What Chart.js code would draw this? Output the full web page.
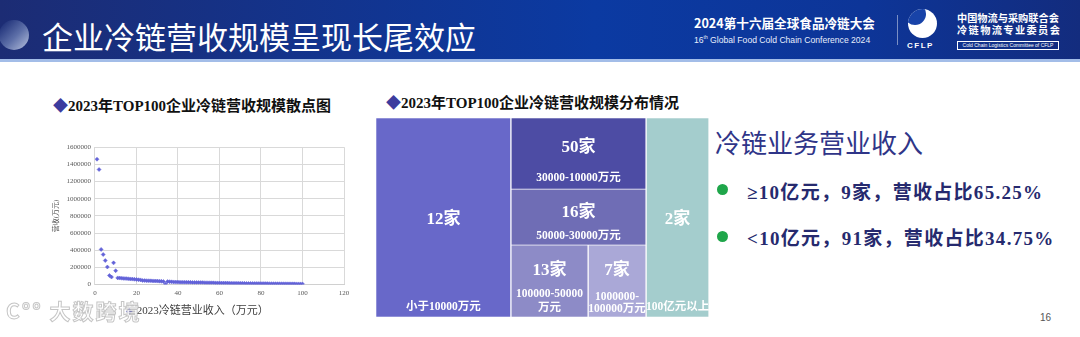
<!DOCTYPE html>
<html>
<head>
<meta charset="utf-8">
<script src="https://cdn.jsdelivr.net/npm/chart.js@4.4.1/dist/chart.umd.min.js"></script>
<style>
  html, body { margin: 0; padding: 0; }
  body { width: 1080px; height: 337px; position: relative; overflow: hidden; background: #fff;
         font-family: "Noto Sans CJK SC", sans-serif; }
  .abs { position: absolute; white-space: nowrap; }
  #header { left: 0; top: 0; width: 1080px; height: 59px;
            background: linear-gradient(90deg, #1c2c74 0%, #0b3aa2 55%, #0d3598 80%, #132c7e 100%); }
  #hline { left: 0; top: 59px; width: 1080px; height: 3px; background: #a3bde8; }
  #ball { left: -1px; top: 20px; width: 30px; height: 30px; border-radius: 50%;
          background: linear-gradient(135deg, #1d2f78 10%, #5d6fa8 55%, #b9c3df 100%); }
  #title { left: 42px; top: 17px; font-size: 31px; line-height: 38px; color: #fff; }
  #conf1 { left: 694px; top: 14px; font-size: 12.6px; line-height: 18px; color: #fff; font-weight: bold; }
  #conf2 { left: 694px; top: 31px; font-size: 8.6px; line-height: 12px; color: #e8eefc; font-family: "Liberation Sans", sans-serif; }
  #conf2 sup { font-size: 5px; }
  #divider { left: 897px; top: 15px; width: 1px; height: 30px; background: rgba(255,255,255,0.45); }
  #logo { left: 908px; top: 9px; width: 29px; height: 29px; border-radius: 50%; background: #fff; overflow: hidden; }
  #logo i { position: absolute; left: -4px; top: -6px; width: 22px; height: 22px; border-radius: 50%; background: #1843a8; }
  #cflp { left: 907px; top: 41px; font-size: 8px; line-height: 10px; color: #fff; font-weight: bold; letter-spacing: 1.5px; font-family: "Liberation Sans", sans-serif; }
  #org1 { left: 957px; top: 11px; font-size: 10.2px; line-height: 14px; color: #fff; font-weight: bold; }
  #org2 { left: 957px; top: 23px; font-size: 10.2px; line-height: 14px; color: #fff; font-weight: bold; letter-spacing: 1.4px; }
  #org3 { left: 957px; top: 41px; width: 100px; height: 7px; border: 1px solid #fff; font-size: 5px; line-height: 7px;
          color: #fff; text-align: center; font-family: "Liberation Sans", sans-serif; }
  .sec { font-size: 15px; line-height: 18px; font-weight: bold; color: #111;
         font-family: "Liberation Serif", "Noto Sans CJK SC", serif; }
  .sec b { color: #3c3c9e; }
  #sec1 { left: 53px; top: 97px; }
  #sec2 { left: 386px; top: 94px; }
  #head2 { left: 715px; top: 126px; font-size: 26px; line-height: 31px; color: #2f3588; }
  .bul { width: 11px; height: 11px; border-radius: 50%; background: #1fa64a; }
  .btxt { font-size: 19px; line-height: 22px; font-weight: bold; color: #262a6e; letter-spacing: 1.3px;
          font-family: "Liberation Serif", "Noto Sans CJK SC", serif; }
  #page { left: 1040px; top: 312px; font-size: 10px; line-height: 12px; color: #555; font-family: "Liberation Sans", sans-serif; }
  #wm { left: 6px; top: 297px; font-size: 21px; line-height: 26px; font-weight: bold; color: rgba(255,255,255,0.9);
        -webkit-text-stroke: 1px rgba(150,150,150,0.55); letter-spacing: 2px; }
  canvas { position: absolute; }
</style>
</head>
<body>
<div class="abs" id="header"></div>
<div class="abs" id="hline"></div>
<div class="abs" id="ball"></div>
<div class="abs" id="title">企业冷链营收规模呈现长尾效应</div>
<div class="abs" id="conf1">2024第十六届全球食品冷链大会</div>
<div class="abs" id="conf2">16<sup>th</sup> Global Food Cold Chain Conference 2024</div>
<div class="abs" id="divider"></div>
<div class="abs" id="logo"><i></i></div>
<div class="abs" id="cflp">CFLP</div>
<div class="abs" id="org1">中国物流与采购联合会</div>
<div class="abs" id="org2">冷链物流专业委员会</div>
<div class="abs" id="org3">Cold Chain Logistics Committee of CFLP</div>

<div class="abs sec" id="sec1"><b>◆</b>2023年TOP100企业冷链营收规模散点图</div>
<div class="abs sec" id="sec2"><b>◆</b>2023年TOP100企业冷链营收规模分布情况</div>

<canvas id="scatter" width="318" height="188" style="left:38px;top:139px"></canvas>
<canvas id="treemap" width="333" height="199" style="left:376px;top:118px"></canvas>

<div class="abs" id="head2">冷链业务营业收入</div>
<div class="abs bul" style="left:717px;top:184px"></div>
<div class="abs btxt" style="left:747px;top:182px">≥10亿元，9家，营收占比65.25%</div>
<div class="abs bul" style="left:717px;top:231px"></div>
<div class="abs btxt" style="left:747px;top:228px">&lt;10亿元，91家，营收占比34.75%</div>
<div class="abs" id="page">16</div>
<div class="abs" id="wm">C°° 大数跨境</div>

<script>
// Scatter: 2023 cold-chain revenue of TOP100 (万元), in rank order 1..100
const SERIES_NAME = '2023冷链营业收入（万元）';
const revenue = [
  1460000, 1340000, 410000, 350000, 280000, 205000, 106000, 88000, 253000, 162000,
  78000, 76000, 74000, 72000, 70000, 68000, 66000, 64000, 62000, 60000,
  57000, 55000, 48000, 47000, 46000, 45000, 44000, 43000, 42000, 41000,
  40000, 38000, 36000, 8000, 35000, 34000, 32000, 31000, 29500, 29000,
  28500, 28000, 27500, 27000, 26500, 26000, 25500, 25000, 24500, 24000,
  23500, 23000, 22500, 22000, 21500, 21000, 20500, 20000, 19500, 19000,
  18600, 18200, 17800, 17400, 17000, 16600, 16200, 15800, 15400, 15000,
  14600, 14300, 14000, 13700, 13400, 13100, 12800, 12500, 12200, 12000,
  11800, 11600, 11400, 11200, 11000, 10800, 10600, 10300, 9900, 9700,
  9500, 9300, 9100, 8900, 8700, 8500, 8300, 8100, 7900, 7700
];
const xTicks = [0, 20, 40, 60, 80, 100, 120];
const yTicks = [0, 200000, 400000, 600000, 800000, 1000000, 1200000, 1400000, 1600000];

// Treemap: revenue bands, company counts and cell weights (share of area, %)
const cellCounts = ['12家', '50家', '16家', '13家', '7家', '2家'];
const cellRanges = ['小于10000万元', '30000-10000万元', '50000-30000万元', '100000-50000\n万元', '1000000-\n100000万元', '100亿元以上'];
const cellWeights = [40.5, 14.5, 11.4, 8.4, 6.3, 18.9];
const cellColors = ['#6868c9', '#4d4ca4', '#6f6db5', '#8d8bc7', '#aaa8d7', '#a4cdcd'];
// column grouping of the cells (an inner array is a row split side by side)
const cellColumns = [[0], [1, 2, [3, 4]], [5]];
// where labels sit inside each cell, as fractions of its height
const LABEL_POS = [
  { count: 0.51, range: [0.95] },
  { count: 0.42, range: [0.845] },
  { count: 0.43, range: [0.84] },
  { count: 0.35, range: [0.68, 0.875] },
  { count: 0.35, range: [0.72, 0.89] },
  { count: 0.51, range: [0.95] },
];

Chart.defaults.font.family = '"Liberation Serif", "Noto Sans CJK SC", serif';
Chart.defaults.color = '#595959';

new Chart(document.getElementById('scatter'), {
  type: 'scatter',
  data: {
    datasets: [{
      label: SERIES_NAME,
      data: revenue.map((v, i) => ({ x: i + 1, y: v })),
      pointStyle: 'rectRot',
      pointRadius: 2,
      backgroundColor: '#6262d8',
      borderColor: '#6262d8',
      borderWidth: 0.5,
    }]
  },
  options: {
    responsive: false,
    animation: false,
    layout: { padding: { top: 6, right: 12, left: 14, bottom: 0 } },
    scales: {
      x: {
        min: xTicks[0], max: xTicks[xTicks.length - 1],
        afterBuildTicks: s => { s.ticks = xTicks.map(v => ({ value: v })); },
        ticks: { font: { size: 7 }, padding: 4, color: '#595959' },
        grid: { color: '#d9d9d9', drawTicks: false },
        border: { color: '#d0d0d0' },
      },
      y: {
        min: yTicks[0], max: yTicks[yTicks.length - 1],
        afterBuildTicks: s => { s.ticks = yTicks.map(v => ({ value: v })); },
        ticks: { font: { size: 7 }, padding: 4, color: '#595959', callback: v => String(v) },
        grid: { color: '#d9d9d9', drawTicks: false },
        border: { color: '#d9d9d9' },
        title: { display: true, text: '营收(万元)', font: { size: 7 }, color: '#595959', padding: { top: 0, bottom: 2 } },
      },
    },
    plugins: {
      legend: {
        position: 'bottom',
        labels: { usePointStyle: true, boxWidth: 4, boxHeight: 4, padding: 5, font: { size: 11 }, color: '#404040' },
      },
      tooltip: { enabled: false },
    },
  },
});

// slice-and-dice layout of the treemap cells from their weights (0..100 units)
function layoutCells() {
  const rects = [];
  const flat = a => a.flat(2);
  const sum = idx => idx.reduce((s, k) => s + cellWeights[k], 0);
  const total = sum(flat(cellColumns));
  let x = 0;
  for (const col of cellColumns) {
    const colW = sum(flat(col));
    const width = colW / total * 100;
    let y = 0;
    for (const row of col) {
      const ids = Array.isArray(row) ? row : [row];
      const rowW = sum(ids);
      const h = rowW / colW * 100;
      let xx = x;
      for (const k of ids) {
        const w = cellWeights[k] / rowW * width;
        rects[k] = { x0: xx, x1: xx + w, y0: y, y1: y + h };
        xx += w;
      }
      y += h;
    }
    x += width;
  }
  return rects;
}
const cellRects = layoutCells();

const cellLabelPlugin = {
  id: 'cellLabels',
  afterDatasetsDraw(chart) {
    const ctx = chart.ctx;
    const xs = chart.scales.x, ys = chart.scales.y;
    cellRects.forEach((r, i) => {
      const left = xs.getPixelForValue(r.x0), right = xs.getPixelForValue(r.x1);
      const top = ys.getPixelForValue(r.y0), bottom = ys.getPixelForValue(r.y1);
      const cx = (left + right) / 2, h = bottom - top;
      const pos = LABEL_POS[i];
      ctx.save();
      ctx.fillStyle = '#ffffff';
      ctx.textAlign = 'center';
      ctx.textBaseline = 'middle';
      ctx.font = 'bold 17px "Liberation Serif", "Noto Sans CJK SC", serif';
      ctx.fillText(cellCounts[i], cx, top + h * pos.count);
      ctx.font = 'bold 11.5px "Liberation Serif", "Noto Sans CJK SC", serif';
      cellRanges[i].split('\n').forEach((line, k) => ctx.fillText(line, cx, top + h * pos.range[k]));
      ctx.restore();
    });
  }
};

new Chart(document.getElementById('treemap'), {
  type: 'scatter',
  data: {
    datasets: cellRects.map((r, i) => ({
      label: cellCounts[i],
      data: [
        { x: r.x0, y: r.y0 }, { x: r.x1, y: r.y0 }, { x: r.x1, y: r.y1 },
        { x: r.x0, y: r.y1 }, { x: r.x0, y: r.y0 }
      ],
      showLine: true,
      fill: 'shape',
      backgroundColor: cellColors[i],
      borderColor: 'rgba(255,255,255,0.55)',
      borderWidth: 1,
      pointRadius: 0,
      tension: 0,
    }))
  },
  plugins: [cellLabelPlugin],
  options: {
    responsive: false,
    animation: false,
    layout: { padding: 0 },
    scales: {
      x: { type: 'linear', min: 0, max: 100, display: false },
      y: { type: 'linear', min: 0, max: 100, reverse: true, display: false },
    },
    plugins: { legend: { display: false }, tooltip: { enabled: false } },
  },
});
</script>
</body>
</html>
